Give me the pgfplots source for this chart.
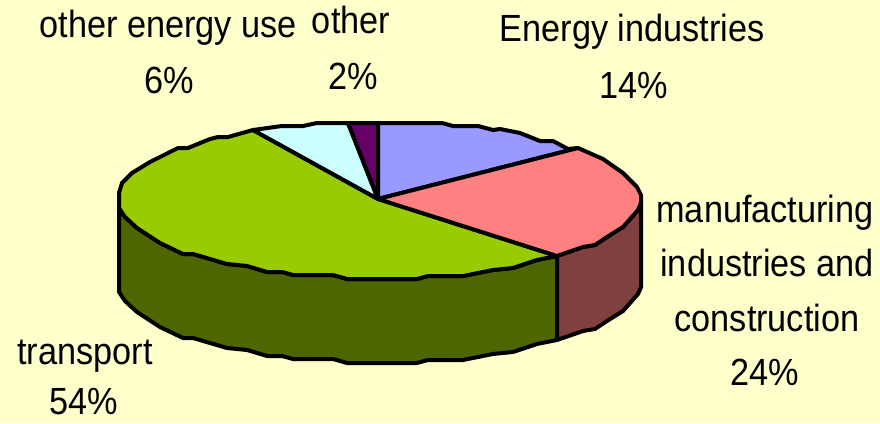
\documentclass[border=0pt]{standalone}
\usepackage{pgfplots}
\pgfplotsset{compat=1.18}
\usepackage{fontspec}
\setmainfont[FakeStretch=0.905]{Liberation Sans}
\definecolor{paper}{HTML}{FFFFCC}
\definecolor{energy}{HTML}{9999FF}
\definecolor{manuf}{HTML}{FF8080}
\definecolor{manufside}{HTML}{804040}
\definecolor{transp}{HTML}{99CC00}
\definecolor{transpside}{HTML}{4D6600}
\definecolor{otheruse}{HTML}{CCFFFF}
\definecolor{otherall}{HTML}{660066}
\begin{document}
\begin{tikzpicture}
\begin{axis}[
  scale only axis, width=880bp, height=423bp,
  xmin=0, xmax=880, ymin=0, ymax=423, y dir=reverse,
  hide axis, clip=true,
  every axis plot/.append style={line join=round, line width=4bp},
  nodes={font=\fontsize{38}{38}\selectfont, text=black, inner sep=0pt, anchor=base},
]
% page background
\addplot[fill=paper, draw=none] coordinates {(0,0) (880,0) (880,423) (0,423)} -- cycle;

% side walls of the disc
\addplot[fill=transpside, draw=black] coordinates {
  (119,193) (119,208) (125,217) (137,228) (160,243) (183,254) (193,254) (227,264)
  (247,266) (267,272) (282,272) (293,275) (333,275) (347,279) (417,279) (428,276)
  (463,276) (478,273) (493,270) (513,268) (537,260) (557,256)
  (557,340) (537,344) (513,352) (493,354) (478,357) (463,360) (428,360) (417,363)
  (347,363) (333,359) (293,359) (282,356) (267,356) (247,350) (227,348) (193,338)
  (183,338) (160,327) (137,312) (125,301) (119,292)
} -- cycle;
\addplot[fill=manufside, draw=black] coordinates {
  (557,256) (583,247) (595,245) (607,237) (623,227) (638,210) (641,203)
  (641,287) (638,294) (623,311) (607,321) (595,329) (583,331) (557,340)
} -- cycle;

% top face: transport 54%
\addplot[fill=transp, draw=black] coordinates {
  (378,199) (557,256) (537,260) (513,268) (493,270) (478,273) (463,276) (428,276)
  (417,279) (347,279) (333,275) (293,275) (282,272) (267,272) (247,266) (227,264)
  (193,254) (183,254) (160,243) (137,228) (125,217) (119,208) (119,193) (122,183)
  (132,173) (150,162) (178,148) (188,148) (210,139) (218,137) (228,137) (253,130)
} -- cycle;
% top face: other energy use 6%
\addplot[fill=otheruse, draw=black] coordinates {
  (378,199) (253,130) (282,126) (303,126) (317,123) (348,123)
} -- cycle;
% top face: other 2%
\addplot[fill=otherall, draw=black] coordinates {
  (378,199) (348,123) (378,123)
} -- cycle;
% top face: energy industries 14%
\addplot[fill=energy, draw=black] coordinates {
  (378,199) (378,123) (442,123) (453,126) (478,126) (493,130) (500,129) (520,133)
  (540,141) (553,141) (568,149) (578,148)
} -- cycle;
% top face: manufacturing industries and construction 24%
\addplot[fill=manuf, draw=black] coordinates {
  (378,199) (578,148) (603,159) (623,173) (637,187) (641,195) (641,203) (638,210)
  (623,227) (607,237) (595,245) (583,247) (557,256)
} -- cycle;

% slice labels
\node at (axis cs:168,38) {other energy use};
\node at (axis cs:169,93) {6\%};
\node at (axis cs:351,34) {other};
\node at (axis cs:353,89) {2\%};
\node at (axis cs:632,42) {Energy industries};
\node at (axis cs:634,98) {14\%};
\node at (axis cs:765,222) {manufacturing};
\node at (axis cs:767,276) {industries and};
\node at (axis cs:767,331) {construction};
\node at (axis cs:765,385) {24\%};
\node at (axis cs:85,364) {transport};
\node at (axis cs:84,414) {54\%};
\end{axis}
\end{tikzpicture}
\end{document}
